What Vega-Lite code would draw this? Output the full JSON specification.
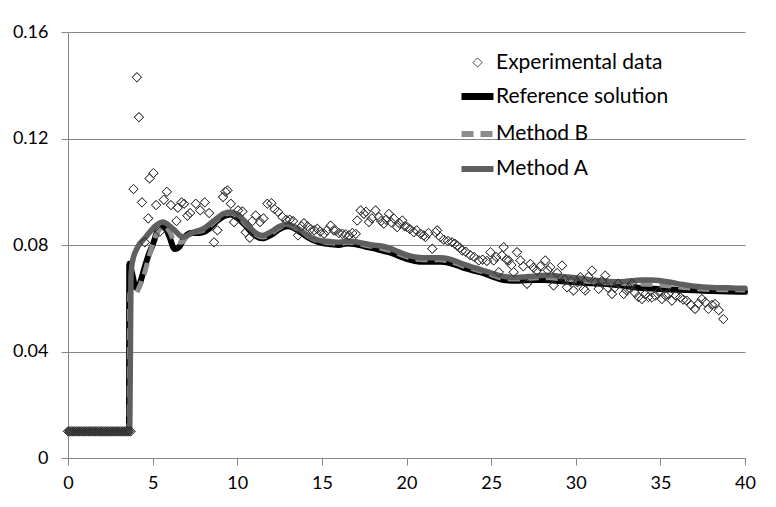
{
  "$schema": "https://vega.github.io/schema/vega-lite/v6.json",
  "width": 677,
  "height": 426,
  "autosize": "none",
  "padding": {"left": 68, "top": 32, "right": 31, "bottom": 49},
  "background": "white",
  "config": {
    "font": "Lato",
    "view": {"stroke": null},
    "axis": {
      "labelFont": "Lato",
      "labelFontSize": 18,
      "labelColor": "#000000",
      "domainColor": "#868686",
      "tickColor": "#868686",
      "gridColor": "#868686",
      "gridWidth": 1,
      "tickSize": 7,
      "title": null
    },
    "legend": {
      "orient": "none",
      "legendX": 390,
      "legendY": 14,
      "labelFont": "Lato",
      "labelFontSize": 21,
      "labelColor": "#000000",
      "labelLimit": 400,
      "labelOffset": -1,
      "rowPadding": 4,
      "symbolSize": 1024,
      "title": null
    }
  },
  "datasets": {
    "exp": [
      {"t": 0.0, "v": 0.01}, {"t": 0.1, "v": 0.01}, {"t": 0.2, "v": 0.01}, {"t": 0.3, "v": 0.01},
      {"t": 0.4, "v": 0.01}, {"t": 0.5, "v": 0.01}, {"t": 0.6, "v": 0.01}, {"t": 0.7, "v": 0.01},
      {"t": 0.8, "v": 0.01}, {"t": 0.9, "v": 0.01}, {"t": 1.0, "v": 0.01}, {"t": 1.1, "v": 0.01},
      {"t": 1.2, "v": 0.01}, {"t": 1.3, "v": 0.01}, {"t": 1.4, "v": 0.01}, {"t": 1.5, "v": 0.01},
      {"t": 1.6, "v": 0.01}, {"t": 1.7, "v": 0.01}, {"t": 1.8, "v": 0.01}, {"t": 1.9, "v": 0.01},
      {"t": 2.0, "v": 0.01}, {"t": 2.1, "v": 0.01}, {"t": 2.2, "v": 0.01}, {"t": 2.3, "v": 0.01},
      {"t": 2.4, "v": 0.01}, {"t": 2.5, "v": 0.01}, {"t": 2.6, "v": 0.01}, {"t": 2.7, "v": 0.01},
      {"t": 2.8, "v": 0.01}, {"t": 2.9, "v": 0.01}, {"t": 3.0, "v": 0.01}, {"t": 3.1, "v": 0.01},
      {"t": 3.2, "v": 0.01}, {"t": 3.3, "v": 0.01}, {"t": 3.4, "v": 0.01}, {"t": 3.5, "v": 0.01},
      {"t": 3.6, "v": 0.01}, {"t": 3.7, "v": 0.01},
      {"t": 3.87, "v": 0.101}, {"t": 4.07, "v": 0.143}, {"t": 4.19, "v": 0.128}, {"t": 4.37, "v": 0.096},
      {"t": 4.54, "v": 0.081}, {"t": 4.74, "v": 0.09}, {"t": 4.82, "v": 0.105}, {"t": 5.05, "v": 0.107},
      {"t": 5.21, "v": 0.095}, {"t": 5.43, "v": 0.085}, {"t": 5.66, "v": 0.097}, {"t": 5.84, "v": 0.1},
      {"t": 6.08, "v": 0.095}, {"t": 6.41, "v": 0.089}, {"t": 6.49, "v": 0.094}, {"t": 6.71, "v": 0.096},
      {"t": 6.86, "v": 0.0955}, {"t": 7.06, "v": 0.091}, {"t": 7.22, "v": 0.092}, {"t": 7.55, "v": 0.0955},
      {"t": 7.81, "v": 0.093}, {"t": 8.08, "v": 0.096}, {"t": 8.34, "v": 0.092}, {"t": 8.63, "v": 0.081},
      {"t": 8.83, "v": 0.0855}, {"t": 9.16, "v": 0.098}, {"t": 9.3, "v": 0.1}, {"t": 9.42, "v": 0.1005},
      {"t": 9.62, "v": 0.0955}, {"t": 9.81, "v": 0.0886}, {"t": 10.05, "v": 0.093}, {"t": 10.31, "v": 0.0926},
      {"t": 10.5, "v": 0.0848}, {"t": 10.74, "v": 0.0827}, {"t": 10.9, "v": 0.089}, {"t": 11.09, "v": 0.0911},
      {"t": 11.35, "v": 0.0886}, {"t": 11.55, "v": 0.09}, {"t": 11.78, "v": 0.0955}, {"t": 12.02, "v": 0.0957},
      {"t": 12.2, "v": 0.0935}, {"t": 12.4, "v": 0.0925}, {"t": 12.67, "v": 0.0905}, {"t": 12.9, "v": 0.0895},
      {"t": 13.1, "v": 0.0895}, {"t": 13.3, "v": 0.089}, {"t": 13.59, "v": 0.0836}, {"t": 13.8, "v": 0.087},
      {"t": 13.94, "v": 0.0882}, {"t": 14.15, "v": 0.087}, {"t": 14.34, "v": 0.086}, {"t": 14.55, "v": 0.0855},
      {"t": 14.73, "v": 0.0861}, {"t": 14.9, "v": 0.085}, {"t": 15.13, "v": 0.0842}, {"t": 15.3, "v": 0.0855},
      {"t": 15.52, "v": 0.0873}, {"t": 15.7, "v": 0.0855}, {"t": 15.81, "v": 0.0855}, {"t": 16.0, "v": 0.0845},
      {"t": 16.21, "v": 0.0842}, {"t": 16.4, "v": 0.084}, {"t": 16.6, "v": 0.0836}, {"t": 16.8, "v": 0.0845},
      {"t": 17.0, "v": 0.0842}, {"t": 17.09, "v": 0.0892}, {"t": 17.29, "v": 0.093}, {"t": 17.48, "v": 0.0917},
      {"t": 17.6, "v": 0.0925}, {"t": 17.78, "v": 0.0886}, {"t": 17.95, "v": 0.09}, {"t": 18.17, "v": 0.093},
      {"t": 18.37, "v": 0.0905}, {"t": 18.5, "v": 0.089}, {"t": 18.66, "v": 0.088}, {"t": 18.8, "v": 0.0895},
      {"t": 18.96, "v": 0.0917}, {"t": 19.1, "v": 0.0885}, {"t": 19.26, "v": 0.0899}, {"t": 19.45, "v": 0.0867},
      {"t": 19.6, "v": 0.088}, {"t": 19.75, "v": 0.0892}, {"t": 19.9, "v": 0.087}, {"t": 20.04, "v": 0.0867},
      {"t": 20.2, "v": 0.086}, {"t": 20.43, "v": 0.0848}, {"t": 20.6, "v": 0.0855}, {"t": 20.83, "v": 0.0842},
      {"t": 21.02, "v": 0.0836}, {"t": 21.12, "v": 0.083}, {"t": 21.3, "v": 0.0845}, {"t": 21.52, "v": 0.0786},
      {"t": 21.71, "v": 0.0848}, {"t": 21.81, "v": 0.0855}, {"t": 22.0, "v": 0.083}, {"t": 22.2, "v": 0.082},
      {"t": 22.45, "v": 0.0815}, {"t": 22.69, "v": 0.081}, {"t": 22.85, "v": 0.0805}, {"t": 22.99, "v": 0.0798},
      {"t": 23.15, "v": 0.079}, {"t": 23.29, "v": 0.0779}, {"t": 23.5, "v": 0.0775}, {"t": 23.78, "v": 0.0761},
      {"t": 24.0, "v": 0.0755}, {"t": 24.27, "v": 0.0742}, {"t": 24.5, "v": 0.0745}, {"t": 24.75, "v": 0.074},
      {"t": 24.96, "v": 0.0773}, {"t": 25.15, "v": 0.0742}, {"t": 25.3, "v": 0.0755}, {"t": 25.45, "v": 0.0698},
      {"t": 25.64, "v": 0.0761}, {"t": 25.74, "v": 0.0792}, {"t": 25.9, "v": 0.0745}, {"t": 26.04, "v": 0.0742},
      {"t": 26.2, "v": 0.0725}, {"t": 26.33, "v": 0.0698}, {"t": 26.53, "v": 0.0773}, {"t": 26.73, "v": 0.0742},
      {"t": 26.9, "v": 0.072}, {"t": 27.12, "v": 0.0654}, {"t": 27.32, "v": 0.0729}, {"t": 27.5, "v": 0.0715},
      {"t": 27.71, "v": 0.0704}, {"t": 27.9, "v": 0.072}, {"t": 28.2, "v": 0.0742}, {"t": 28.35, "v": 0.0705},
      {"t": 28.5, "v": 0.0717}, {"t": 28.69, "v": 0.0648}, {"t": 28.9, "v": 0.0695}, {"t": 29.19, "v": 0.0723},
      {"t": 29.35, "v": 0.067}, {"t": 29.48, "v": 0.0641}, {"t": 29.7, "v": 0.0665}, {"t": 29.87, "v": 0.0629},
      {"t": 30.1, "v": 0.066}, {"t": 30.27, "v": 0.0679}, {"t": 30.46, "v": 0.0635}, {"t": 30.56, "v": 0.0629},
      {"t": 30.75, "v": 0.068}, {"t": 30.96, "v": 0.0704}, {"t": 31.15, "v": 0.066}, {"t": 31.35, "v": 0.0635},
      {"t": 31.55, "v": 0.0665}, {"t": 31.74, "v": 0.0685}, {"t": 31.9, "v": 0.064}, {"t": 32.14, "v": 0.0616},
      {"t": 32.3, "v": 0.064}, {"t": 32.5, "v": 0.0655}, {"t": 32.83, "v": 0.0616}, {"t": 33.0, "v": 0.063},
      {"t": 33.15, "v": 0.064}, {"t": 33.32, "v": 0.0654}, {"t": 33.5, "v": 0.062}, {"t": 33.7, "v": 0.0605},
      {"t": 33.91, "v": 0.0597}, {"t": 34.1, "v": 0.0615}, {"t": 34.3, "v": 0.0605}, {"t": 34.5, "v": 0.0603},
      {"t": 34.7, "v": 0.061}, {"t": 34.9, "v": 0.0625}, {"t": 35.09, "v": 0.0597}, {"t": 35.3, "v": 0.061},
      {"t": 35.48, "v": 0.0616}, {"t": 35.68, "v": 0.0591}, {"t": 35.9, "v": 0.061}, {"t": 36.17, "v": 0.0603},
      {"t": 36.35, "v": 0.0595}, {"t": 36.56, "v": 0.0591}, {"t": 36.8, "v": 0.0575}, {"t": 37.05, "v": 0.056},
      {"t": 37.25, "v": 0.058}, {"t": 37.45, "v": 0.0597}, {"t": 37.65, "v": 0.0585}, {"t": 37.84, "v": 0.056},
      {"t": 38.05, "v": 0.0575}, {"t": 38.23, "v": 0.0579}, {"t": 38.45, "v": 0.0555}, {"t": 38.72, "v": 0.0522}
    ],
    "curves": [
      {"series": "Reference solution", "t": 0, "v": 0.01},
      {"series": "Reference solution", "t": 3.6, "v": 0.01},
      {"series": "Reference solution", "t": 3.62, "v": 0.073},
      {"series": "Reference solution", "t": 3.8, "v": 0.069},
      {"series": "Reference solution", "t": 4.0, "v": 0.064},
      {"series": "Reference solution", "t": 4.2, "v": 0.065},
      {"series": "Reference solution", "t": 4.5, "v": 0.071},
      {"series": "Reference solution", "t": 4.8, "v": 0.077},
      {"series": "Reference solution", "t": 5.0, "v": 0.08},
      {"series": "Reference solution", "t": 5.3, "v": 0.0855},
      {"series": "Reference solution", "t": 5.5, "v": 0.0875},
      {"series": "Reference solution", "t": 5.7, "v": 0.087},
      {"series": "Reference solution", "t": 6.0, "v": 0.083},
      {"series": "Reference solution", "t": 6.3, "v": 0.0785},
      {"series": "Reference solution", "t": 6.6, "v": 0.0795},
      {"series": "Reference solution", "t": 6.9, "v": 0.083},
      {"series": "Reference solution", "t": 7.3, "v": 0.0845},
      {"series": "Reference solution", "t": 7.7, "v": 0.0845},
      {"series": "Reference solution", "t": 8.0, "v": 0.0848},
      {"series": "Reference solution", "t": 8.4, "v": 0.0865},
      {"series": "Reference solution", "t": 8.8, "v": 0.089},
      {"series": "Reference solution", "t": 9.2, "v": 0.0908},
      {"series": "Reference solution", "t": 9.6, "v": 0.0915},
      {"series": "Reference solution", "t": 10.0, "v": 0.0902},
      {"series": "Reference solution", "t": 10.5, "v": 0.0872},
      {"series": "Reference solution", "t": 11.0, "v": 0.0838},
      {"series": "Reference solution", "t": 11.5, "v": 0.0825},
      {"series": "Reference solution", "t": 12.0, "v": 0.0838},
      {"series": "Reference solution", "t": 12.5, "v": 0.086},
      {"series": "Reference solution", "t": 13.0, "v": 0.087},
      {"series": "Reference solution", "t": 13.5, "v": 0.0858},
      {"series": "Reference solution", "t": 14.0, "v": 0.0836},
      {"series": "Reference solution", "t": 14.5, "v": 0.0818},
      {"series": "Reference solution", "t": 15.0, "v": 0.0808},
      {"series": "Reference solution", "t": 15.5, "v": 0.0803},
      {"series": "Reference solution", "t": 16.0, "v": 0.08},
      {"series": "Reference solution", "t": 16.5, "v": 0.0806},
      {"series": "Reference solution", "t": 17.0, "v": 0.0803},
      {"series": "Reference solution", "t": 17.5, "v": 0.0795},
      {"series": "Reference solution", "t": 18.0, "v": 0.0788},
      {"series": "Reference solution", "t": 18.5, "v": 0.078},
      {"series": "Reference solution", "t": 19.0, "v": 0.0772},
      {"series": "Reference solution", "t": 19.5, "v": 0.076},
      {"series": "Reference solution", "t": 20.0, "v": 0.0748},
      {"series": "Reference solution", "t": 20.5, "v": 0.074},
      {"series": "Reference solution", "t": 21.0, "v": 0.0737},
      {"series": "Reference solution", "t": 21.5, "v": 0.0737},
      {"series": "Reference solution", "t": 22.0, "v": 0.0737},
      {"series": "Reference solution", "t": 22.5, "v": 0.0733},
      {"series": "Reference solution", "t": 23.0, "v": 0.0723},
      {"series": "Reference solution", "t": 23.5, "v": 0.0712},
      {"series": "Reference solution", "t": 24.0, "v": 0.0703},
      {"series": "Reference solution", "t": 24.5, "v": 0.0695},
      {"series": "Reference solution", "t": 25.0, "v": 0.0683},
      {"series": "Reference solution", "t": 25.5, "v": 0.0672},
      {"series": "Reference solution", "t": 26.0, "v": 0.0667},
      {"series": "Reference solution", "t": 26.5, "v": 0.0666},
      {"series": "Reference solution", "t": 27.0, "v": 0.0668},
      {"series": "Reference solution", "t": 27.5, "v": 0.0669},
      {"series": "Reference solution", "t": 28.0, "v": 0.0669},
      {"series": "Reference solution", "t": 28.5, "v": 0.0668},
      {"series": "Reference solution", "t": 29.0, "v": 0.0665},
      {"series": "Reference solution", "t": 29.5, "v": 0.0662},
      {"series": "Reference solution", "t": 30.0, "v": 0.066},
      {"series": "Reference solution", "t": 30.5, "v": 0.0657},
      {"series": "Reference solution", "t": 31.0, "v": 0.0656},
      {"series": "Reference solution", "t": 32.0, "v": 0.0653},
      {"series": "Reference solution", "t": 33.0, "v": 0.0645},
      {"series": "Reference solution", "t": 34.0, "v": 0.0638},
      {"series": "Reference solution", "t": 35.0, "v": 0.0635},
      {"series": "Reference solution", "t": 36.0, "v": 0.0632},
      {"series": "Reference solution", "t": 37.0, "v": 0.063},
      {"series": "Reference solution", "t": 38.0, "v": 0.0627},
      {"series": "Reference solution", "t": 39.0, "v": 0.0625},
      {"series": "Reference solution", "t": 40.0, "v": 0.0624},
      {"series": "Method B", "t": 0, "v": 0.01},
      {"series": "Method B", "t": 3.6, "v": 0.01},
      {"series": "Method B", "t": 3.65, "v": 0.062},
      {"series": "Method B", "t": 3.9, "v": 0.061},
      {"series": "Method B", "t": 4.2, "v": 0.064},
      {"series": "Method B", "t": 4.5, "v": 0.069},
      {"series": "Method B", "t": 4.8, "v": 0.076},
      {"series": "Method B", "t": 5.1, "v": 0.082},
      {"series": "Method B", "t": 5.4, "v": 0.086},
      {"series": "Method B", "t": 5.7, "v": 0.087},
      {"series": "Method B", "t": 6.0, "v": 0.085},
      {"series": "Method B", "t": 6.3, "v": 0.0815},
      {"series": "Method B", "t": 6.7, "v": 0.081},
      {"series": "Method B", "t": 7.2, "v": 0.0845},
      {"series": "Method B", "t": 7.7, "v": 0.085},
      {"series": "Method B", "t": 8.2, "v": 0.0862},
      {"series": "Method B", "t": 8.7, "v": 0.089},
      {"series": "Method B", "t": 9.2, "v": 0.0913},
      {"series": "Method B", "t": 9.6, "v": 0.092},
      {"series": "Method B", "t": 10.0, "v": 0.0908},
      {"series": "Method B", "t": 10.5, "v": 0.0878},
      {"series": "Method B", "t": 11.0, "v": 0.0844},
      {"series": "Method B", "t": 11.5, "v": 0.083},
      {"series": "Method B", "t": 12.0, "v": 0.0844},
      {"series": "Method B", "t": 12.5, "v": 0.0865},
      {"series": "Method B", "t": 13.0, "v": 0.0874},
      {"series": "Method B", "t": 13.5, "v": 0.0862},
      {"series": "Method B", "t": 14.0, "v": 0.084},
      {"series": "Method B", "t": 14.5, "v": 0.0822},
      {"series": "Method B", "t": 15.0, "v": 0.0812},
      {"series": "Method B", "t": 15.5, "v": 0.0808},
      {"series": "Method B", "t": 16.0, "v": 0.0805},
      {"series": "Method B", "t": 16.5, "v": 0.081},
      {"series": "Method B", "t": 17.0, "v": 0.0808},
      {"series": "Method B", "t": 17.5, "v": 0.08},
      {"series": "Method B", "t": 18.0, "v": 0.0794},
      {"series": "Method B", "t": 18.5, "v": 0.0788},
      {"series": "Method B", "t": 19.0, "v": 0.078},
      {"series": "Method B", "t": 19.5, "v": 0.0768},
      {"series": "Method B", "t": 20.0, "v": 0.0756},
      {"series": "Method B", "t": 20.5, "v": 0.0748},
      {"series": "Method B", "t": 21.0, "v": 0.0745},
      {"series": "Method B", "t": 21.5, "v": 0.0745},
      {"series": "Method B", "t": 22.0, "v": 0.0745},
      {"series": "Method B", "t": 22.5, "v": 0.074},
      {"series": "Method B", "t": 23.0, "v": 0.073},
      {"series": "Method B", "t": 23.5, "v": 0.0718},
      {"series": "Method B", "t": 24.0, "v": 0.0709},
      {"series": "Method B", "t": 24.5, "v": 0.07},
      {"series": "Method B", "t": 25.0, "v": 0.0689},
      {"series": "Method B", "t": 25.5, "v": 0.0678},
      {"series": "Method B", "t": 26.0, "v": 0.0673},
      {"series": "Method B", "t": 26.5, "v": 0.0672},
      {"series": "Method B", "t": 27.0, "v": 0.0674},
      {"series": "Method B", "t": 27.5, "v": 0.0676},
      {"series": "Method B", "t": 28.0, "v": 0.0677},
      {"series": "Method B", "t": 28.5, "v": 0.0677},
      {"series": "Method B", "t": 29.0, "v": 0.0674},
      {"series": "Method B", "t": 29.5, "v": 0.0671},
      {"series": "Method B", "t": 30.0, "v": 0.0668},
      {"series": "Method B", "t": 30.5, "v": 0.0665},
      {"series": "Method B", "t": 31.0, "v": 0.0662},
      {"series": "Method B", "t": 32.0, "v": 0.0658},
      {"series": "Method B", "t": 33.0, "v": 0.0655},
      {"series": "Method B", "t": 34.0, "v": 0.0653},
      {"series": "Method B", "t": 35.0, "v": 0.065},
      {"series": "Method B", "t": 36.0, "v": 0.0643},
      {"series": "Method B", "t": 37.0, "v": 0.0637},
      {"series": "Method B", "t": 38.0, "v": 0.0633},
      {"series": "Method B", "t": 39.0, "v": 0.0632},
      {"series": "Method B", "t": 40.0, "v": 0.0631},
      {"series": "Method A", "t": 0, "v": 0.01},
      {"series": "Method A", "t": 3.65, "v": 0.01},
      {"series": "Method A", "t": 3.72, "v": 0.068},
      {"series": "Method A", "t": 3.8, "v": 0.0735},
      {"series": "Method A", "t": 4.1, "v": 0.079},
      {"series": "Method A", "t": 4.6, "v": 0.083},
      {"series": "Method A", "t": 5.2, "v": 0.0873},
      {"series": "Method A", "t": 5.6, "v": 0.0886},
      {"series": "Method A", "t": 6.2, "v": 0.0861},
      {"series": "Method A", "t": 6.8, "v": 0.083},
      {"series": "Method A", "t": 7.4, "v": 0.0848},
      {"series": "Method A", "t": 8.0, "v": 0.0861},
      {"series": "Method A", "t": 8.6, "v": 0.089},
      {"series": "Method A", "t": 9.2, "v": 0.0918},
      {"series": "Method A", "t": 9.6, "v": 0.0924},
      {"series": "Method A", "t": 10.0, "v": 0.0915},
      {"series": "Method A", "t": 10.4, "v": 0.0892},
      {"series": "Method A", "t": 11.0, "v": 0.085},
      {"series": "Method A", "t": 11.5, "v": 0.0836},
      {"series": "Method A", "t": 12.0, "v": 0.085},
      {"series": "Method A", "t": 12.5, "v": 0.087},
      {"series": "Method A", "t": 12.9, "v": 0.0878},
      {"series": "Method A", "t": 13.5, "v": 0.0865},
      {"series": "Method A", "t": 14.0, "v": 0.0843},
      {"series": "Method A", "t": 14.5, "v": 0.0825},
      {"series": "Method A", "t": 15.0, "v": 0.0815},
      {"series": "Method A", "t": 15.5, "v": 0.0813},
      {"series": "Method A", "t": 16.0, "v": 0.081},
      {"series": "Method A", "t": 16.5, "v": 0.0815},
      {"series": "Method A", "t": 17.0, "v": 0.0812},
      {"series": "Method A", "t": 17.5, "v": 0.0806},
      {"series": "Method A", "t": 18.0, "v": 0.08},
      {"series": "Method A", "t": 18.5, "v": 0.0796},
      {"series": "Method A", "t": 19.0, "v": 0.0788},
      {"series": "Method A", "t": 19.5, "v": 0.0775},
      {"series": "Method A", "t": 20.0, "v": 0.0763},
      {"series": "Method A", "t": 20.5, "v": 0.0755},
      {"series": "Method A", "t": 21.0, "v": 0.0752},
      {"series": "Method A", "t": 21.5, "v": 0.0752},
      {"series": "Method A", "t": 22.0, "v": 0.0752},
      {"series": "Method A", "t": 22.5, "v": 0.0748},
      {"series": "Method A", "t": 23.0, "v": 0.0737},
      {"series": "Method A", "t": 23.5, "v": 0.0725},
      {"series": "Method A", "t": 24.0, "v": 0.0715},
      {"series": "Method A", "t": 24.5, "v": 0.0705},
      {"series": "Method A", "t": 25.0, "v": 0.0695},
      {"series": "Method A", "t": 25.5, "v": 0.0685},
      {"series": "Method A", "t": 26.0, "v": 0.068},
      {"series": "Method A", "t": 26.5, "v": 0.0678},
      {"series": "Method A", "t": 27.0, "v": 0.068},
      {"series": "Method A", "t": 27.5, "v": 0.0683},
      {"series": "Method A", "t": 28.0, "v": 0.0685},
      {"series": "Method A", "t": 28.5, "v": 0.0686},
      {"series": "Method A", "t": 29.0, "v": 0.0683},
      {"series": "Method A", "t": 29.5, "v": 0.068},
      {"series": "Method A", "t": 30.0, "v": 0.0677},
      {"series": "Method A", "t": 30.5, "v": 0.0673},
      {"series": "Method A", "t": 31.0, "v": 0.0668},
      {"series": "Method A", "t": 31.5, "v": 0.0666},
      {"series": "Method A", "t": 32.0, "v": 0.0663},
      {"series": "Method A", "t": 32.5, "v": 0.0662},
      {"series": "Method A", "t": 33.0, "v": 0.0664},
      {"series": "Method A", "t": 33.5, "v": 0.0667},
      {"series": "Method A", "t": 34.0, "v": 0.0669},
      {"series": "Method A", "t": 34.5, "v": 0.0669},
      {"series": "Method A", "t": 35.0, "v": 0.0666},
      {"series": "Method A", "t": 35.5, "v": 0.0661},
      {"series": "Method A", "t": 36.0, "v": 0.0655},
      {"series": "Method A", "t": 36.5, "v": 0.065},
      {"series": "Method A", "t": 37.0, "v": 0.0645},
      {"series": "Method A", "t": 37.5, "v": 0.0642},
      {"series": "Method A", "t": 38.0, "v": 0.064},
      {"series": "Method A", "t": 38.5, "v": 0.0639},
      {"series": "Method A", "t": 39.0, "v": 0.0639},
      {"series": "Method A", "t": 39.5, "v": 0.0638},
      {"series": "Method A", "t": 40.0, "v": 0.0638}
    ]
  },
  "encoding": {
    "x": {
      "field": "t",
      "type": "quantitative",
      "scale": {"domain": [0, 40], "nice": false},
      "axis": {"values": [0, 5, 10, 15, 20, 25, 30, 35, 40], "grid": false, "labelPadding": 9, "labelFlush": false}
    },
    "y": {
      "field": "v",
      "type": "quantitative",
      "scale": {"domain": [0, 0.16], "nice": false},
      "axis": {
        "values": [0, 0.04, 0.08, 0.12, 0.16],
        "grid": true,
        "labelPadding": 13,
        "labelExpr": "datum.value === 0 ? '0' : format(datum.value, '.2f')"
      }
    }
  },
  "layer": [
    {
      "data": {"name": "curves"},
      "transform": [{"filter": "datum.series === 'Reference solution'"}],
      "mark": {"type": "line", "color": "#000000", "strokeWidth": 6, "strokeJoin": "round", "strokeCap": "round", "interpolate": "monotone"}
    },
    {
      "data": {"name": "curves"},
      "transform": [{"filter": "datum.series === 'Method B'"}],
      "mark": {"type": "line", "color": "#8c8c8c", "strokeWidth": 5, "strokeDash": [12, 7], "strokeJoin": "round", "interpolate": "monotone"}
    },
    {
      "data": {"name": "curves"},
      "transform": [{"filter": "datum.series === 'Method A'"}],
      "mark": {"type": "line", "color": "#5f5f5f", "strokeWidth": 5.5, "strokeJoin": "round", "strokeCap": "round", "interpolate": "monotone"}
    },
    {
      "data": {"name": "exp"},
      "mark": {"type": "point", "filled": false, "opacity": 1, "size": 1024, "strokeCap": "round"},
      "encoding": {
        "color": {
          "datum": "Experimental data",
          "type": "nominal",
          "scale": {
            "domain": ["Experimental data", "Reference solution", "Method B", "Method A"],
            "range": ["#333333", "#000000", "#8c8c8c", "#5f5f5f"]
          },
          "legend": {"values": ["Experimental data", "Reference solution", "Method B", "Method A"]}
        },
        "shape": {
          "datum": "Experimental data",
          "type": "nominal",
          "scale": {
            "domain": ["Experimental data", "Reference solution", "Method B", "Method A"],
            "range": ["M0,-0.29L0.29,0L0,0.29L-0.29,0Z", "stroke", "stroke", "stroke"]
          },
          "legend": {"values": ["Experimental data", "Reference solution", "Method B", "Method A"]}
        },
        "strokeWidth": {
          "datum": "Experimental data",
          "type": "nominal",
          "scale": {
            "type": "ordinal",
            "domain": ["Experimental data", "Reference solution", "Method B", "Method A"],
            "range": [1, 7, 6, 6]
          },
          "legend": {"values": ["Experimental data", "Reference solution", "Method B", "Method A"]}
        },
        "strokeDash": {
          "datum": "Experimental data",
          "type": "nominal",
          "scale": {
            "domain": ["Experimental data", "Reference solution", "Method B", "Method A"],
            "range": [[1, 0], [1, 0], [12, 7], [1, 0]]
          },
          "legend": {"values": ["Experimental data", "Reference solution", "Method B", "Method A"]}
        }
      }
    }
  ]
}
